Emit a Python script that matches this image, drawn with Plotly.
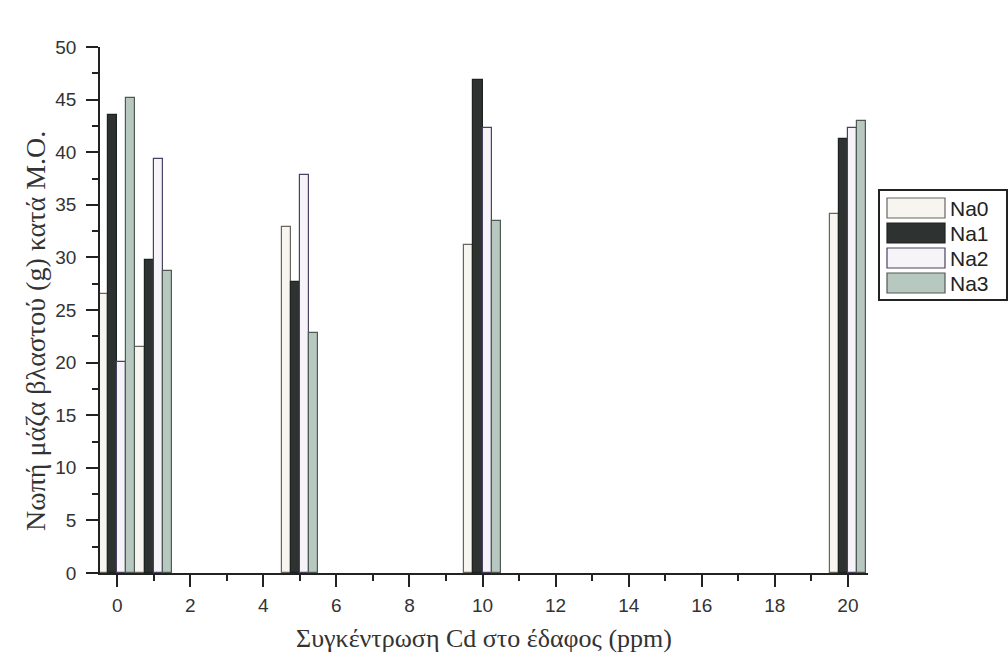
import plotly.graph_objects as go

# ---- data ----
cd_levels = [0, 1, 5, 10, 20]
series_names = ["Na0", "Na1", "Na2", "Na3"]
na0 = [26.5, 21.5, 32.9, 31.2, 34.1]
na1 = [43.5, 29.8, 27.7, 46.9, 41.3]
na2 = [20.1, 39.4, 37.8, 42.3, 42.3]
na3 = [45.2, 28.7, 22.8, 33.5, 43.0]
x_ticks = list(range(0, 21, 2))
y_ticks = list(range(0, 51, 5))
x_title = "Συγκέντρωση Cd στο έδαφος (ppm)"
y_title = "Νωπή μάζα βλαστού (g) κατά Μ.Ο."

fills = ["#f7f5f0", "#2e3331", "#f6f4f9", "#b7c8c0"]
lines = ["#6a6460", "#1e2220", "#4a4262", "#505a55"]

W, H = 1008, 660
L, R, T, B = 100, 140, 47, 87

fig = go.Figure()
for name, vals, fc, lc in zip(series_names, [na0, na1, na2, na3], fills, lines):
    fig.add_trace(go.Bar(x=cd_levels, y=vals, name=name,
                         marker=dict(color=fc, line=dict(color=lc, width=1.2)),
                         showlegend=False))

pw, ph = W - L - R, H - T - B
def px(x):
    return (x - L) / pw
def py(y):
    return (H - B - y) / ph

# custom legend (box + swatches + labels)
shapes = [dict(type="rect", xref="paper", yref="paper",
               x0=px(879), x1=px(1007), y0=py(300), y1=py(190),
               line=dict(color="#222", width=2), fillcolor="white", layer="above")]
annotations = []
row_y = [208, 233, 258, 283]
for name, fc, lc, ry in zip(series_names, fills, lines, row_y):
    shapes.append(dict(type="rect", xref="paper", yref="paper",
                       x0=px(887), x1=px(945), y0=py(ry + 10), y1=py(ry - 10),
                       line=dict(color=lc, width=1.2), fillcolor=fc, layer="above"))
    annotations.append(dict(xref="paper", yref="paper", x=px(948), y=py(ry),
                            text=name, showarrow=False, xanchor="left", yanchor="middle",
                            font=dict(family="Liberation Sans, Arial", size=21, color="#222")))

# y-axis title as annotation (placed like the reference)
annotations.append(dict(xref="paper", yref="paper", x=px(35), y=py(331),
                        text=y_title, textangle=-90, showarrow=False,
                        xanchor="center", yanchor="middle",
                        font=dict(family="Liberation Serif, Times New Roman", size=28, color="#333")))

fig.update_layout(
    width=W, height=H,
    margin=dict(l=L, r=R, t=T, b=B),
    paper_bgcolor="white", plot_bgcolor="white",
    barmode="group", bargap=0, bargroupgap=0,
    shapes=shapes, annotations=annotations,
    font=dict(family="Liberation Sans, Arial", size=19, color="#333"),
)
fig.update_xaxes(
    range=[-0.47, 20.55], tickmode="array", tickvals=x_ticks,
    ticks="outside", ticklen=12, tickwidth=1.5, tickcolor="#222",
    showline=True, linecolor="#222", linewidth=1.5, showgrid=False, zeroline=False,
    minor=dict(dtick=1, ticks="outside", ticklen=6, tickwidth=1.5, tickcolor="#222"),
    tickfont=dict(size=19, color="#333"), ticklabelstandoff=2,
    title=dict(text=x_title, standoff=14,
               font=dict(family="Liberation Serif, Times New Roman", size=26, color="#333")),
)
fig.update_yaxes(
    range=[0, 50], tickmode="array", tickvals=y_ticks,
    ticks="outside", ticklen=12, tickwidth=1.5, tickcolor="#222",
    showline=True, linecolor="#222", linewidth=1.5, showgrid=False, zeroline=False,
    minor=dict(dtick=2.5, ticks="outside", ticklen=6, tickwidth=1.5, tickcolor="#222"),
    tickfont=dict(size=19, color="#333"), ticklabelstandoff=6,
)

fig.write_html("out.html")
